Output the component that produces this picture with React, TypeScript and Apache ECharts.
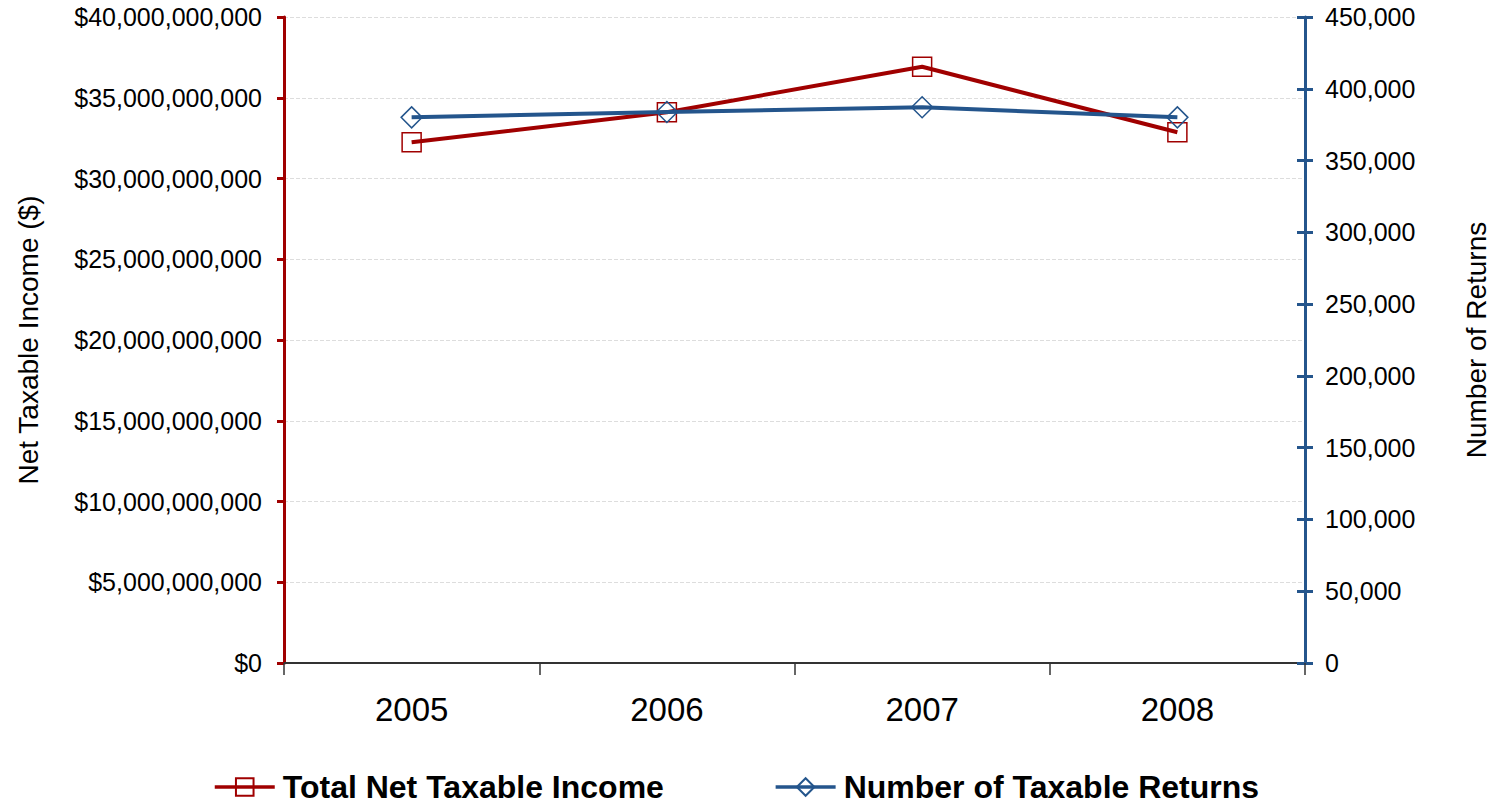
import React, { useEffect, useRef } from "react";
import * as echarts from "echarts";

const years = ["2005", "2006", "2007", "2008"];
const totalNetTaxableIncome = [32.24e9, 34.1e9, 36.92e9, 32.86e9];
const numberOfTaxableReturns = [380100, 383800, 387100, 380100];
const incomeTicks = { min: 0, max: 40e9, interval: 5e9 };
const returnsTicks = { min: 0, max: 450000, interval: 50000 };

const RED = "#A00000";
const BLUE = "#24558C";
const FONT = "Liberation Sans, Arial, sans-serif";

export default function App() {
  const ref = useRef<HTMLDivElement>(null);
  useEffect(() => {
    document.body.style.margin = "0";
    if (!ref.current) return;
    const chart = echarts.init(ref.current, undefined, { renderer: "svg" });
    const fmt = (v: number) => v.toLocaleString("en-US");
    chart.setOption({
      animation: false,
      textStyle: { fontFamily: FONT },
      grid: { left: 284, right: 194, top: 17, bottom: 144 },
      legend: {
        left: 208,
        top: 766,
        itemWidth: 60,
        itemHeight: 22,
        itemGap: 110,
        lineStyle: { width: 3.5 },
        textStyle: { fontSize: 32, fontWeight: "bold", color: "#000", fontFamily: FONT, padding: [0, 0, 0, 3] },
        data: ["Total Net Taxable Income", "Number of Taxable Returns"],
      },
      xAxis: {
        type: "category",
        data: years,
        boundaryGap: true,
        axisLine: { show: true, lineStyle: { color: "#333", width: 2 } },
        axisTick: { show: true, length: 12, alignWithLabel: false, lineStyle: { color: "#333", width: 1.5 } },
        axisLabel: { fontSize: 33, color: "#000", margin: 30, fontFamily: FONT },
        splitLine: { show: false },
      },
      yAxis: [
        {
          type: "value",
          position: "left",
          ...incomeTicks,
          name: "Net Taxable Income ($)",
          nameLocation: "middle",
          nameGap: 242,
          nameTextStyle: { fontSize: 28, color: "#000", fontFamily: FONT },
          axisLine: { show: true, lineStyle: { color: RED, width: 3 } },
          axisTick: { show: true, length: 7, lineStyle: { color: RED, width: 3 } },
          axisLabel: { fontSize: 25, color: "#000", margin: 22, fontFamily: FONT, formatter: (v: number) => "$" + fmt(v) },
          splitLine: { show: true, lineStyle: { color: "#dddddd", type: "dashed", width: 1 } },
        },
        {
          type: "value",
          position: "right",
          ...returnsTicks,
          name: "Number of Returns",
          nameLocation: "middle",
          nameGap: 157,
          nameTextStyle: { fontSize: 28, color: "#000", fontFamily: FONT },
          axisLine: { show: true, lineStyle: { color: BLUE, width: 3 } },
          axisTick: { show: true, length: 8, lineStyle: { color: BLUE, width: 3 } },
          axisLabel: { fontSize: 25, color: "#000", margin: 20, fontFamily: FONT, formatter: (v: number) => fmt(v) },
          splitLine: { show: false },
        },
        {
          type: "value",
          position: "right",
          ...returnsTicks,
          axisLine: { show: false },
          axisTick: { show: true, inside: true, length: 8, lineStyle: { color: BLUE, width: 3 } },
          axisLabel: { show: false },
          splitLine: { show: false },
        },
      ],
      series: [
        {
          name: "Total Net Taxable Income",
          type: "line",
          yAxisIndex: 0,
          data: totalNetTaxableIncome,
          symbol: "rect",
          symbolSize: 19,
          lineStyle: { color: RED, width: 4 },
          itemStyle: { color: "rgba(255,255,255,0)", borderColor: RED, borderWidth: 1.5 },
          z: 3,
        },
        {
          name: "Number of Taxable Returns",
          type: "line",
          yAxisIndex: 1,
          data: numberOfTaxableReturns,
          symbol: "diamond",
          symbolSize: 21,
          lineStyle: { color: BLUE, width: 4 },
          itemStyle: { color: "rgba(255,255,255,0)", borderColor: BLUE, borderWidth: 1.5 },
          z: 4,
        },
      ],
    });
    return () => chart.dispose();
  }, []);
  return <div ref={ref} style={{ width: 1499, height: 807 }} />;
}
